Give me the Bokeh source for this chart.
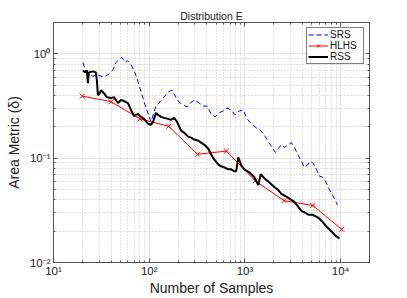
from bokeh.plotting import figure
from bokeh.models import FixedTicker, LogAxis, Legend, LegendItem, Range1d
from bokeh.embed import file_html
from bokeh.resources import INLINE

# ---- data ----
srs_n = [20.3, 21.8, 23.4, 25.8, 28.4, 31.3, 34.4, 37.9, 41.5, 45.0, 49.4, 51.9, 56.0, 59.0,
         64.5, 69.3, 74.5, 80.1, 86.1, 92.5, 99.5, 104.4, 112.3, 117.8, 126.6, 142.8, 157.3,
         173.1, 186.1, 205.0, 225.7, 248.6, 273.8, 301.4, 331.9, 365.4, 402.4, 443.1, 488.0,
         537.3, 591.7, 651.5, 717.4, 790.0, 869.9, 957.9, 1055, 1162, 1303, 1462, 1610, 1773,
         1930, 2075, 2230, 2400, 2580, 2770, 3055, 3280, 3614, 3884, 4175, 4488, 4825, 5188,
         5578, 5998, 6450, 6935, 7454, 8014, 8617, 9255, 9950]
srs_v = [0.827, 0.665, 0.637, 0.609, 0.637, 0.609, 0.609, 0.637, 0.695, 0.827, 0.903, 0.923,
         0.827, 0.864, 0.792, 0.695, 0.583, 0.469, 0.377, 0.303, 0.255, 0.223, 0.278, 0.316,
         0.338, 0.385, 0.430, 0.449, 0.394, 0.345, 0.324, 0.310, 0.345, 0.361, 0.338, 0.316,
         0.316, 0.266, 0.249, 0.272, 0.284, 0.303, 0.290, 0.260, 0.284, 0.290, 0.238, 0.214,
         0.196, 0.184, 0.164, 0.141, 0.127, 0.1135, 0.124, 0.135, 0.127, 0.132, 0.141, 0.127,
         0.106, 0.0933, 0.0818, 0.0855, 0.0933, 0.0893, 0.0783, 0.0673, 0.0658, 0.0603,
         0.0518, 0.0464, 0.0407, 0.0357]

hlhs_n = [20, 40, 80, 160, 320, 640, 1280, 2560, 5120, 10240]
hlhs_v = [0.394, 0.348, 0.238, 0.202, 0.109, 0.117, 0.0607, 0.0392, 0.0352, 0.0208]

rss_n = [20.3, 21.3, 22.3, 22.9, 23.4, 25.8, 27.7, 28.4, 29.1, 30.5, 31.3, 33.6, 36.1, 39.8,
         42.8, 47.1, 50.7, 54.5, 60.0, 64.5, 69.3, 76.3, 80.1, 90.4, 97.1, 104.4, 109.6, 117.8,
         123.6, 132.9, 142.8, 157.3, 169.2, 181.8, 195.5, 215.3, 231.4, 254.9, 273.8, 294.5,
         324.3, 348.6, 374.8, 412.7, 443.1, 476.9, 525.3, 564.7, 607.2, 668.6, 717.4, 772.7,
         810.8, 850.9, 914.7, 983.3, 1109, 1251, 1378, 1462, 1632, 1773, 2027, 2230, 2400,
         2642, 2841, 3055, 3280, 3614, 3884, 4279, 4600, 5066, 5578, 5998, 6450, 7099, 7633,
         8209, 8822, 9714]
rss_v = [0.695, 0.665, 0.695, 0.523, 0.665, 0.680, 0.665, 0.558, 0.402, 0.420, 0.449, 0.420,
         0.385, 0.377, 0.385, 0.338, 0.361, 0.353, 0.338, 0.290, 0.254, 0.266, 0.254, 0.233,
         0.214, 0.209, 0.223, 0.272, 0.260, 0.249, 0.2435, 0.2383, 0.233, 0.2435, 0.223,
         0.1834, 0.1756, 0.1609, 0.1575, 0.1508, 0.1475, 0.1412, 0.1351, 0.1238, 0.1086,
         0.0974, 0.0873, 0.0836, 0.0818, 0.0783, 0.0783, 0.0750, 0.0750, 0.1018, 0.0855,
         0.0783, 0.0733, 0.0658, 0.0552, 0.0702, 0.0630, 0.0590, 0.0529, 0.0495, 0.0454,
         0.0434, 0.0416, 0.0398, 0.0381, 0.0342, 0.0313, 0.0300, 0.0287, 0.0287, 0.0275,
         0.0263, 0.0246, 0.0221, 0.0207, 0.0194, 0.0181, 0.0170]

x_ticks = [10, 100, 1000, 10000]
x_tick_labels = ["10\u00b9", "10\u00b2", "10\u00b3", "10\u2074"]
y_ticks = [0.01, 0.1, 1]
y_tick_labels = ["10\u207b\u00b2", "10\u207b\u00b9", "10\u2070"]

FONT = "Liberation Sans"
AX = "#555555"

x_minor = [k * 10 ** e for e in range(1, 5) for k in range(2, 10)] + [20000]
y_minor = [k * 10.0 ** e for e in range(-2, 1) for k in range(2, 10)]

p = figure(width=407, height=298, x_axis_type="log", y_axis_type="log",
           x_range=Range1d(10, 2e4), y_range=Range1d(0.01, 2),
           output_backend="svg", toolbar_location=None, title="Distribution E",
           min_border_left=53, min_border_right=38, min_border_top=22, min_border_bottom=34)

p.title.align = "center"
p.title.text_font = FONT
p.title.text_font_size = "10.5px"
p.title.text_font_style = "normal"
p.title.text_color = "#222222"
p.title.standoff = 1
p.outline_line_color = AX
p.outline_line_width = 1

xt = FixedTicker(ticks=x_ticks, minor_ticks=x_minor)
yt = FixedTicker(ticks=y_ticks, minor_ticks=y_minor)

for ax, tk, labs in ((p.xaxis[0], xt, x_tick_labels), (p.yaxis[0], yt, y_tick_labels)):
    ax.ticker = tk
    ax.major_label_overrides = {t: l for t, l in zip(tk.ticks, labs)}
    ax.major_label_text_font = FONT
    ax.major_label_text_font_size = "11.5px"
    ax.major_label_text_color = "#222222"
    ax.axis_label_text_font = FONT
    ax.axis_label_text_font_size = "14px"
    ax.axis_label_text_font_style = "normal"
    ax.axis_label_text_color = "#222222"
    ax.axis_line_color = AX
    ax.major_tick_line_color = AX
    ax.minor_tick_line_color = AX
    ax.major_tick_in = 4
    ax.major_tick_out = 0
    ax.minor_tick_in = 2
    ax.minor_tick_out = 0
    ax.major_label_standoff = 2
    ax.axis_label_standoff = 0

p.xaxis[0].axis_label = "Number of Samples"
p.yaxis[0].axis_label = "Area Metric (\u03b4)"
p.yaxis[0].major_label_standoff = 3
p.yaxis[0].axis_label_standoff = 5

for side, tk in (("above", xt), ("right", yt)):
    a = LogAxis(ticker=tk, major_label_text_font_size="1px", major_label_text_alpha=0,
                major_label_standoff=0,
                major_tick_in=4, major_tick_out=0, minor_tick_in=2, minor_tick_out=0,
                axis_line_color=AX, major_tick_line_color=AX, minor_tick_line_color=AX)
    p.add_layout(a, side)

for g, tk in ((p.xgrid[0], xt), (p.ygrid[0], yt)):
    g.ticker = tk
    g.grid_line_color = "#e4e4e4"
    g.grid_line_width = 1
    g.minor_grid_line_color = "#c4c4c4"
    g.minor_grid_line_dash = "1 2"
    g.minor_grid_line_width = 1

srs = p.line(srs_n, srs_v, line_color="#0000ff", line_dash="5 3", line_width=1)
hl = p.line(hlhs_n, hlhs_v, line_color="#ff0000", line_width=1)
hm = p.scatter(hlhs_n, hlhs_v, marker="x", size=7, line_color="#ff0000", line_width=1)
rss = p.line(rss_n, rss_v, line_color="black", line_width=2)

legend = Legend(items=[LegendItem(label="SRS", renderers=[srs]),
                       LegendItem(label="HLHS", renderers=[hl, hm]),
                       LegendItem(label="RSS", renderers=[rss])],
                location="top_right")
legend.margin = 5
legend.padding = 1
legend.spacing = 0
legend.glyph_height = 11
legend.glyph_width = 20
legend.label_height = 11
legend.label_width = 32
legend.label_standoff = 2
legend.label_text_font = FONT
legend.label_text_font_size = "10px"
legend.label_text_color = "#111111"
legend.border_line_color = "black"
legend.border_line_width = 1
legend.background_fill_alpha = 1
p.add_layout(legend)

open("out.html", "w").write(file_html(p, INLINE))
